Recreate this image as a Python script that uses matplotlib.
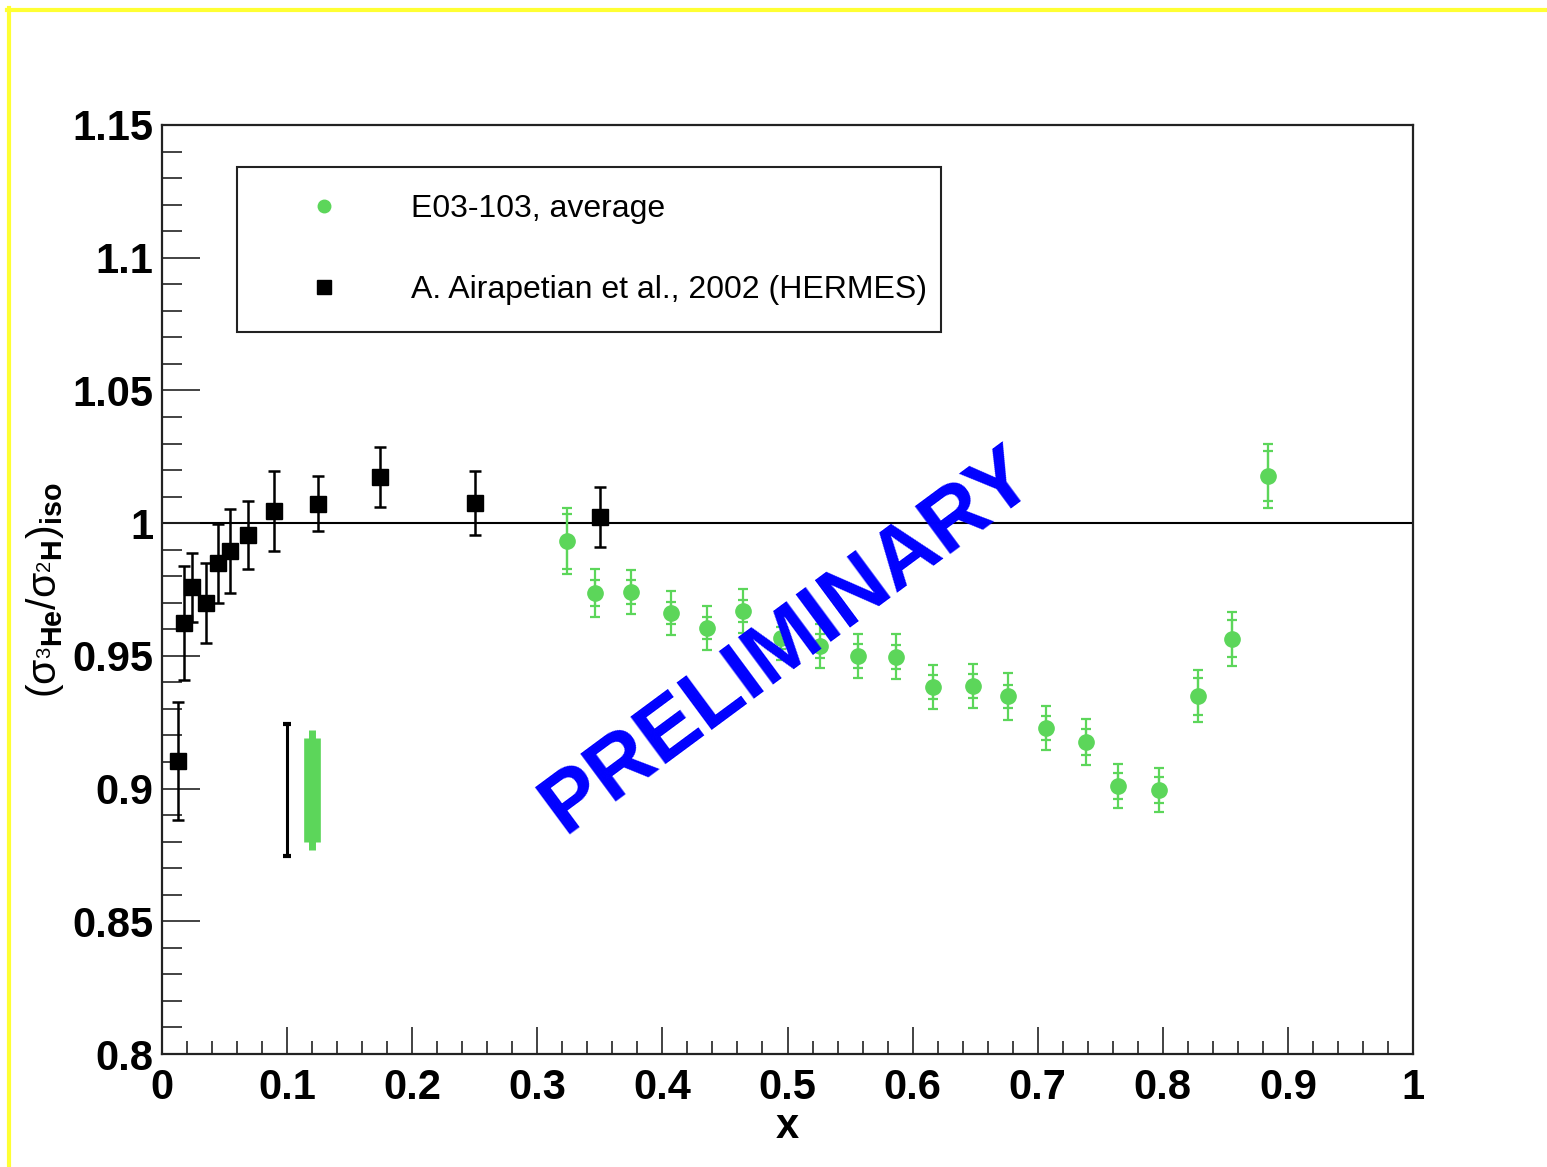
import matplotlib
matplotlib.use('Agg')
import matplotlib.pyplot as plt
from matplotlib.lines import Line2D
from matplotlib.ticker import MultipleLocator, FuncFormatter

plt.rcParams['font.family'] = ['Liberation Sans', 'DejaVu Sans']
plt.rcParams['mathtext.fontset'] = 'custom'
plt.rcParams['mathtext.rm'] = 'Liberation Sans'
plt.rcParams['mathtext.it'] = 'Liberation Sans'
plt.rcParams['mathtext.bf'] = 'Liberation Sans:bold'

# HERMES data (black squares)
hermes_x = [0.0128, 0.0176, 0.0243, 0.0352, 0.0445, 0.0544, 0.069, 0.0895,
            0.125, 0.1743, 0.2502, 0.3501]
hermes_y = [0.9105, 0.9623, 0.9759, 0.9698, 0.9848, 0.9895, 0.9954, 1.0045,
            1.0074, 1.0173, 1.0075, 1.0023]
hermes_err = [0.0222, 0.0214, 0.013, 0.015, 0.0149, 0.0158, 0.0128, 0.015,
              0.0105, 0.0113, 0.012, 0.0113]

# E03-103 data (green circles): total and statistical errors
e03_x = [0.3237, 0.3461, 0.3749, 0.4069, 0.4357, 0.4644, 0.4948, 0.526,
         0.5561, 0.5867, 0.6163, 0.6485, 0.676, 0.7064, 0.7384, 0.7639,
         0.7972, 0.8279, 0.8551, 0.8838]
e03_y = [0.9932, 0.9737, 0.9741, 0.9662, 0.9605, 0.9669, 0.9568, 0.9538,
         0.950, 0.9497, 0.9383, 0.9385, 0.9347, 0.9228, 0.9174, 0.9008,
         0.8995, 0.9347, 0.9565, 1.0177]
e03_tot = [0.0124, 0.0090, 0.0083, 0.0083, 0.0083, 0.0083, 0.0083, 0.0083,
           0.0083, 0.0085, 0.0083, 0.0083, 0.0087, 0.0083, 0.0087, 0.0083,
           0.0083, 0.0098, 0.0102, 0.0120]
e03_stat = [0.0103, 0.0049, 0.0045, 0.0041, 0.0043, 0.0041, 0.0041, 0.0045,
            0.0045, 0.0045, 0.0045, 0.0045, 0.0045, 0.0045, 0.0049, 0.0049,
            0.0049, 0.0068, 0.0071, 0.0094]

# normalisation (systematic) bars: x, centre, half-widths
sys_hermes_x, sys_hermes_y, sys_hermes_err = 0.1, 0.8995, 0.025
sys_e03_x, sys_e03_y, sys_e03_err, sys_e03_cap = 0.12, 0.8994, 0.0197, 0.0227

green = '#5cd65a'

fig = plt.figure(figsize=(15.47, 11.67), dpi=100)
ax = fig.add_axes([162/1547, 1 - 1054/1167, (1413-162)/1547, (1054-125)/1167])

ax.axhline(1.0, color='black', lw=1.5, zorder=1)

ax.errorbar(hermes_x, hermes_y, yerr=hermes_err, fmt='s', color='black',
            ms=11, elinewidth=1.8, capsize=4.5, capthick=1.8, zorder=3)

ax.errorbar(e03_x, e03_y, yerr=e03_tot, fmt='o', color=green, ms=11,
            elinewidth=1.6, capsize=3.8, capthick=1.6, zorder=3)
ax.errorbar(e03_x, e03_y, yerr=e03_stat, fmt='none', ecolor=green,
            elinewidth=1.6, capsize=3.8, capthick=1.6, zorder=3)

# systematic bars
ax.errorbar([sys_hermes_x], [sys_hermes_y], yerr=[sys_hermes_err], fmt='none',
            ecolor='black', elinewidth=2.2, capsize=3, capthick=3, zorder=3)
ax.errorbar([sys_e03_x], [sys_e03_y], yerr=[sys_e03_cap], fmt='none',
            ecolor=green, elinewidth=5, zorder=3)
ax.errorbar([sys_e03_x], [sys_e03_y], yerr=[sys_e03_err], fmt='none',
            ecolor=green, elinewidth=12, zorder=3)

ax.text(0.5005, 0.9555, 'PRELIMINARY', color='#0000ff', fontsize=62,
        fontweight='bold', rotation=36.5, ha='center', va='center',
        rotation_mode='anchor', zorder=5)

ax.set_xlim(0, 1)
ax.set_ylim(0.8, 1.15)
ax.xaxis.set_major_locator(MultipleLocator(0.1))
ax.xaxis.set_minor_locator(MultipleLocator(0.02))
ax.yaxis.set_major_locator(MultipleLocator(0.05))
ax.yaxis.set_minor_locator(MultipleLocator(0.01))
ax.xaxis.set_major_formatter(FuncFormatter(lambda v, p: f'{round(v, 2):g}'))
ax.yaxis.set_major_formatter(FuncFormatter(lambda v, p: f'{round(v, 2):g}'))

ax.tick_params(which='both', direction='in', top=False, right=False,
               labelsize=30, width=1.2, color='#222222')
ax.tick_params(axis='x', which='major', length=19.5, pad=10)
ax.tick_params(axis='x', which='minor', length=9.5)
ax.tick_params(axis='y', which='major', length=27.5, pad=6)
ax.tick_params(axis='y', which='minor', length=14.5)
for lab in ax.get_xticklabels() + ax.get_yticklabels():
    lab.set_fontweight('bold')
for sp in ax.spines.values():
    sp.set_linewidth(1.6)
    sp.set_color('#222222')

fig.text(787/1547, 1 - 1127/1167, 'x', fontsize=30, fontweight='bold',
         ha='center', va='center')
fig.text(45/1547, 1 - 590/1167,
         r'$(\sigma_{{}^{3}\mathbf{He}}/\sigma_{{}^{2}\mathbf{H}})_{\mathbf{iso}}$',
         fontsize=29.5, rotation=90, ha='center', va='center')

handles = [Line2D([], [], ls='none', marker='o', color=green, ms=9),
           Line2D([], [], ls='none', marker='s', color='black', ms=9.5)]
labels = ['E03-103, average', 'A. Airapetian et al., 2002 (HERMES)']
leg = ax.legend(handles, labels, loc='upper left',
                bbox_to_anchor=(0.060, 0.9548, 0.5627, 0.0), mode='expand',
                fontsize=23, frameon=True, fancybox=False, framealpha=1,
                edgecolor='#222222', borderpad=0.84, labelspacing=1.6,
                handlelength=3.75, handletextpad=0.85, borderaxespad=0)
leg.get_frame().set_linewidth(1.5)

# yellow canvas border (top and left)
fig.add_artist(Line2D([7/1547, 1], [1 - 10/1167, 1 - 10/1167], color='#ffff33',
                      lw=3, transform=fig.transFigure))
fig.add_artist(Line2D([8.5/1547, 8.5/1547], [0, 1 - 8/1167], color='#ffff33',
                      lw=3, transform=fig.transFigure))

fig.savefig('out.png', dpi=100)
